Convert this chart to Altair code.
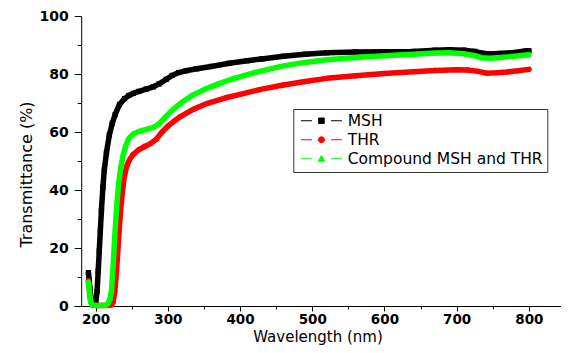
import altair as alt
import pandas as pd

series_names = ["MSH", "THR", "Compound MSH and THR"]
series_colors = ["#000000", "#FF0000", "#00FF00"]
series_shapes = ["square", "circle", "triangle-up"]

msh_wl = [190, 191, 192, 193, 194, 196, 198, 200, 202, 203.5, 205, 206.5, 208, 210, 212, 215, 219, 223, 227, 233,
          240, 246, 252, 260, 270, 280, 288, 298, 306, 315, 325, 340, 360, 385, 410, 430, 460, 490, 520, 560,
          600, 640, 670, 690, 710, 725, 735, 745, 760, 780, 795, 800]
msh_t = [11.5, 9, 6, 3.5, 1.5, 0.5, 0.3, 1, 5, 12, 19, 26, 33, 41, 47, 53, 59, 63, 66, 69.5,
         71.5, 72.6, 73.3, 74, 74.8, 75.6, 76.6, 78.2, 79.5, 80.5, 81.1, 81.8, 82.6, 83.7, 84.6, 85.2, 86.1, 86.8, 87.3, 87.6,
         87.7, 87.8, 88.2, 88.4, 88.2, 87.8, 87.2, 86.9, 87.1, 87.4, 87.9, 88]

thr_wl = [190, 191, 192, 193, 195, 200, 210, 218, 222, 224.5, 226.5, 228, 230, 232, 234, 236, 238, 240, 243, 247,
          252, 260, 268, 276, 284, 292, 300, 308, 318, 335, 355, 380, 400, 427, 460, 490, 520, 560, 600, 640,
          670, 700, 715, 730, 741, 755, 770, 785, 800]
thr_t = [8.7, 6.5, 4, 2, 0.5, 0.2, 0.2, 0.2, 0.4, 1.5, 5, 9.5, 16, 24, 31, 37, 41.5, 45, 48.2, 50.5,
         52.3, 53.9, 55, 56, 57.5, 60, 62, 63.6, 65.4, 67.8, 69.9, 71.8, 73, 74.6, 76.2, 77.4, 78.5, 79.4, 80.2, 80.8,
         81.2, 81.5, 81.4, 80.9, 80.3, 80.4, 80.7, 81.1, 81.6]

cmp_wl = [190, 191, 192, 193, 195, 200, 205, 210, 214, 217, 220, 222, 224, 226, 228, 230, 232, 235, 238, 242,
          246, 252, 260, 270, 280, 288, 295, 303, 312, 322, 335, 350, 370, 390, 410, 430, 460, 490, 520, 560,
          600, 640, 670, 690, 710, 725, 735, 747, 760, 780, 800]
cmp_t = [8.2, 6, 3.5, 1.5, 0.4, 0.2, 0.2, 0.2, 0.3, 0.8, 2.5, 5.5, 13, 22, 30, 37, 42.5, 48, 52, 55.5,
         57.8, 59.3, 60.2, 60.9, 61.6, 62.8, 64.7, 66.8, 68.8, 70.7, 72.8, 74.6, 76.6, 78.3, 79.8, 81.1, 82.8, 84, 84.9, 85.7,
         86.3, 86.8, 87.2, 87.3, 87, 86.3, 85.6, 85.4, 85.7, 86.1, 86.6]

x_major = [200, 300, 400, 500, 600, 700, 800]
x_minor = [250, 350, 450, 550, 650, 750]
y_major = [0, 20, 40, 60, 80, 100]
y_minor = [10, 30, 50, 70, 90]

rows = []
for name, wl, t in zip(series_names, [msh_wl, thr_wl, cmp_wl], [msh_t, thr_t, cmp_t]):
    for w, v in zip(wl, t):
        rows.append({"series": name, "wl": w, "T": v})
df = pd.DataFrame(rows)

FONT = "DejaVu Sans"
xscale = alt.Scale(domain=[170, 844.5], nice=False, zero=False)
yscale = alt.Scale(domain=[0, 100], nice=False, zero=False)

x_axis = alt.Axis(
    values=x_major + x_minor,
    labelExpr="datum.value % 100 === 0 ? datum.label : ''",
    tickSize={"condition": {"test": "datum.value % 100 === 0", "value": 5}, "value": 3},
    labelFont=FONT, labelFontWeight="bold", labelFontSize=13.5, labelPadding=1,
    labelOverlap=False, labelFlush=False,
    title="Wavelength (nm)", titleFont=FONT, titleFontSize=15, titleFontWeight="normal",
    titleY=35.5, titleBaseline="alphabetic",
    grid=False, domainColor="black", tickColor="black", labelColor="black", titleColor="black",
)
y_axis = alt.Axis(
    values=y_major + y_minor,
    labelExpr="datum.value % 20 === 0 ? datum.label : ''",
    tickSize={"condition": {"test": "datum.value % 20 === 0", "value": 7}, "value": 4},
    labelFont=FONT, labelFontWeight="bold", labelFontSize=14, labelPadding=6,
    labelOverlap=False, labelFlush=False, offset=-7.2,
    title="Transmittance (%)", titleFont=FONT, titleFontSize=16, titleFontWeight="normal",
    titleAngle=270, titleX=-50, titleY=158, titleBaseline="alphabetic", titleAlign="center",
    grid=False, domainColor="black", tickColor="black", labelColor="black", titleColor="black",
)

layers = []
for name, col, shp in zip(series_names, series_colors, series_shapes):
    sub = alt.Chart(df).transform_filter(alt.datum.series == name)
    line = sub.mark_line(color=col, strokeWidth=5.5, strokeJoin="round", strokeCap="round").encode(
        x=alt.X("wl:Q", scale=xscale, axis=x_axis),
        y=alt.Y("T:Q", scale=yscale, axis=y_axis),
    )
    pts = sub.mark_point(shape=shp, filled=True, color=col, size=28, opacity=1).encode(
        x=alt.X("wl:Q", scale=xscale, axis=x_axis),
        y=alt.Y("T:Q", scale=yscale, axis=y_axis),
    )
    layers += [line, pts]

# legend symbols: line stub - marker - line stub
legend_paths = [
    "M-4.1,0H-1.9M1.9,0H4.1M-0.55,-0.55H0.55V0.55H-0.55Z",
    "M-4.1,0H-1.9M1.9,0H4.1M-0.6,0A0.6,0.6 0 1,0 0.6,0A0.6,0.6 0 1,0 -0.6,0Z",
    "M-4.1,0H-1.9M1.9,0H4.1M0,-0.65L0.65,0.5H-0.65Z",
]
leg = alt.Legend(
    title=None, orient="none", legendX=219.3, legendY=93, padding=4,
    strokeColor="#333333", fillColor="white",
    symbolSize=100, symbolStrokeWidth=1, symbolOffset=16.4, labelOffset=18.5,
    labelFont=FONT, labelFontSize=15.5, labelColor="black", rowPadding=2, labelLimit=400,
)
legend_layer = alt.Chart(df).transform_filter("false").mark_point(filled=True, strokeWidth=1, opacity=1).encode(
    fill=alt.Fill("series:N", scale=alt.Scale(domain=series_names, range=series_colors), legend=leg),
    stroke=alt.Stroke("series:N", scale=alt.Scale(domain=series_names, range=series_colors), legend=leg),
    shape=alt.Shape("series:N", scale=alt.Scale(domain=series_names, range=legend_paths), legend=leg),
)
layers.append(legend_layer)

chart = alt.layer(*layers).properties(
    width=487, height=290,
    autosize=alt.AutoSizeParams(type="none"),
    padding={"left": 66, "top": 8, "right": 0, "bottom": 39},
    background="white",
).configure_view(stroke=None)

chart.save("out.html", embed_options={"renderer": "svg", "actions": False})
